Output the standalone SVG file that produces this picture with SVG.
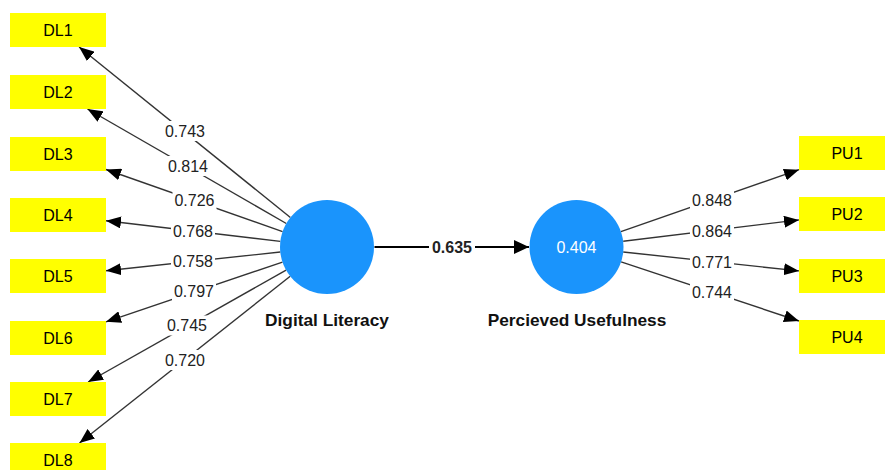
<svg xmlns="http://www.w3.org/2000/svg" width="885" height="470" viewBox="0 0 885 470">
<style>
.box{fill:#ffff00}
.bt{font-family:"Liberation Sans",Arial,sans-serif;font-size:16px;fill:#000;text-anchor:middle}
.lt{font-family:"Liberation Sans",Arial,sans-serif;font-size:16px;fill:#222;text-anchor:middle}
.lb{fill:#fff}
.ln{stroke:#333;stroke-width:1.4;fill:none;marker-end:url(#ah)}
.lv{fill:#1a94fc}
.nt{font-family:"Liberation Sans",Arial,sans-serif;font-size:17.3px;font-weight:bold;fill:#111;text-anchor:middle}
</style>
<defs>
<marker id="ah" markerUnits="userSpaceOnUse" markerWidth="15" markerHeight="12" viewBox="0 0 15 12" refX="15" refY="6" orient="auto">
<path d="M0,0 L15,6 L0,12 z" fill="#000"/>
</marker>
<marker id="ah2" markerUnits="userSpaceOnUse" markerWidth="15" markerHeight="14" viewBox="0 0 15 14" refX="15" refY="7" orient="auto">
<path d="M0,0 L15,7 L0,14 z" fill="#000"/>
</marker>
</defs>
<g id="connectors">
<line class="ln" x1="290.4" y1="217.5" x2="79.1" y2="47"/>
<line class="ln" x1="286.3" y1="223.5" x2="87.5" y2="109"/>
<line class="ln" x1="282.6" y1="231.6" x2="106" y2="169.5"/>
<line class="ln" x1="280.3" y1="241.4" x2="106" y2="220.7"/>
<line class="ln" x1="280.3" y1="252" x2="106" y2="270.8"/>
<line class="ln" x1="282.5" y1="262.1" x2="106" y2="321.8"/>
<line class="ln" x1="286.1" y1="270.1" x2="88.1" y2="382"/>
<line class="ln" x1="290.2" y1="276.2" x2="79.5" y2="443"/>
<line class="ln" x1="620.9" y1="231.6" x2="799" y2="169.7"/>
<line class="ln" x1="623.2" y1="241.3" x2="799" y2="219.9"/>
<line class="ln" x1="623.2" y1="252" x2="799" y2="270.9"/>
<line class="ln" x1="621.1" y1="261.8" x2="799" y2="321"/>
<line x1="374.5" y1="247" x2="529" y2="247" stroke="#000" stroke-width="2.2" marker-end="url(#ah2)"/>
<g id="labels">
<rect class="lb" x="163" y="121" width="44" height="20"/><text class="lt" x="185" y="136.7">0.743</text>
<rect class="lb" x="166" y="156" width="44" height="20"/><text class="lt" x="188" y="171.7">0.814</text>
<rect class="lb" x="172.5" y="190" width="44" height="20"/><text class="lt" x="194.5" y="205.7">0.726</text>
<rect class="lb" x="171" y="221.5" width="44" height="20"/><text class="lt" x="193" y="237.2">0.768</text>
<rect class="lb" x="171" y="251.5" width="44" height="20"/><text class="lt" x="193" y="267.2">0.758</text>
<rect class="lb" x="172" y="281.5" width="44" height="20"/><text class="lt" x="194" y="297.2">0.797</text>
<rect class="lb" x="165" y="315.5" width="44" height="20"/><text class="lt" x="187" y="331.2">0.745</text>
<rect class="lb" x="163" y="350" width="44" height="20"/><text class="lt" x="185" y="365.7">0.720</text>
<rect class="lb" x="690" y="190" width="44" height="20"/><text class="lt" x="712" y="205.7">0.848</text>
<rect class="lb" x="690" y="221" width="44" height="20"/><text class="lt" x="712" y="236.7">0.864</text>
<rect class="lb" x="690" y="252" width="44" height="20"/><text class="lt" x="712" y="267.7">0.771</text>
<rect class="lb" x="690" y="282.5" width="44" height="20"/><text class="lt" x="712" y="298.2">0.744</text>
<rect class="lb" x="429" y="237" width="46" height="20"/><text class="lt" x="452" y="252.8" font-weight="bold" fill="#000">0.635</text>
</g>
</g>
<g id="DL"><circle class="lv" cx="327" cy="247" r="47"/><text class="nt" x="327" y="326">Digital Literacy</text></g>
<g id="PU"><circle class="lv" cx="576.5" cy="247" r="47"/><text class="bt" x="576.5" y="252.7" fill="#fff" style="fill:#fff">0.404</text><text class="nt" x="577" y="326">Percieved Usefulness</text></g>
<g id="DL1"><rect class="box" x="10" y="13" width="96" height="34"/><text class="bt" x="58" y="35.7">DL1</text></g>
<g id="DL2"><rect class="box" x="10" y="75" width="96" height="34"/><text class="bt" x="58" y="97.7">DL2</text></g>
<g id="DL3"><rect class="box" x="10" y="137" width="96" height="34"/><text class="bt" x="58" y="159.7">DL3</text></g>
<g id="DL4"><rect class="box" x="10" y="198" width="96" height="34"/><text class="bt" x="58" y="220.7">DL4</text></g>
<g id="DL5"><rect class="box" x="10" y="259" width="96" height="34"/><text class="bt" x="58" y="281.7">DL5</text></g>
<g id="DL6"><rect class="box" x="10" y="321" width="96" height="34"/><text class="bt" x="58" y="343.7">DL6</text></g>
<g id="DL7"><rect class="box" x="10" y="382" width="96" height="34"/><text class="bt" x="58" y="404.7">DL7</text></g>
<g id="DL8"><rect class="box" x="10" y="443" width="96" height="34"/><text class="bt" x="58" y="465.7">DL8</text></g>
<g id="PU1"><rect class="box" x="799" y="136" width="96" height="34"/><text class="bt" x="847" y="158.7">PU1</text></g>
<g id="PU2"><rect class="box" x="799" y="197" width="96" height="34"/><text class="bt" x="847" y="219.7">PU2</text></g>
<g id="PU3"><rect class="box" x="799" y="259" width="96" height="34"/><text class="bt" x="847" y="281.7">PU3</text></g>
<g id="PU4"><rect class="box" x="799" y="320" width="96" height="34"/><text class="bt" x="847" y="342.7">PU4</text></g>
</svg>
